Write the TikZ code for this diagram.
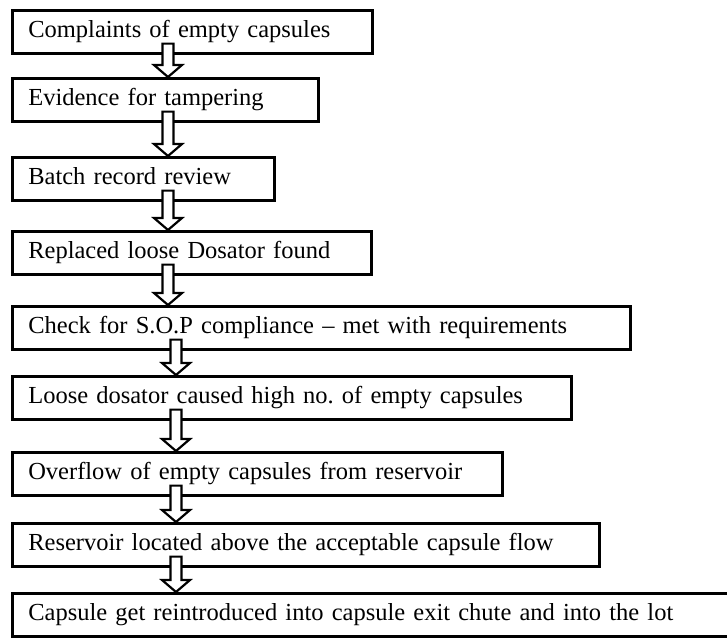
\documentclass[tikz,border=0pt]{standalone}
\usepackage{fontspec}
\setmainfont{Liberation Serif}
\usetikzlibrary{calc}

\tikzset{
  stepbox/.style = {draw, line width = 2.6pt, anchor = north west,
    minimum height = 43pt, inner xsep = 16pt, inner ysep = 0pt,
    align = left, text height = 17pt, text depth = 6pt,
    font = \fontsize{24.5}{30}\selectfont\frenchspacing},
  blockarrow/.style = {draw, fill = white, line width = 2.2pt, line join = miter}
}

% block arrow: from box, to box, x position
\newcommand{\flowarrow}[3]{%
  \draw[blockarrow]
    ($(#3 |- #1.south) + (-5.5, -11)$) -- ($(#3 |- #2.north) + (-5.5, -12)$)
    -- ++(-8.5, 0) -- (#3 |- #2.north) -- ($(#3 |- #2.north) + (14, -12)$)
    -- ++(-8.5, 0) -- ($(#3 |- #1.south) + (5.5, -11)$) -- cycle;}

\begin{document}
\begin{tikzpicture}[x = 1pt, y = -1pt]
\clip (0, 0) rectangle (727, 637);
\fill[white] (0, 0) rectangle (727, 637);

\node[stepbox, text width = 328pt] (b1) at (11, 9) {\mbox{Complaints of empty capsules}};
\node[stepbox, text width = 274pt] (b2) at (11, 77) {\mbox{Evidence for tampering}};
\node[stepbox, text width = 230pt] (b3) at (11, 156) {\mbox{Batch record review}};
\node[stepbox, text width = 327pt] (b4) at (11, 230) {\mbox{Replaced loose Dosator found}};
\node[stepbox, text width = 586pt] (b5) at (11, 305) {\mbox{Check for S.O.P compliance -- met with requirements}};
\node[stepbox, text width = 527pt] (b6) at (11, 375) {\mbox{Loose dosator caused high no. of empty capsules}};
\node[stepbox, text width = 458pt] (b7) at (11, 451) {\mbox{Overflow of empty capsules from reservoir}};
\node[stepbox, text width = 555pt] (b8) at (11, 522) {\mbox{Reservoir located above the acceptable capsule flow}};
\node[stepbox, text width = 708pt] (b9) at (11, 592) {\mbox{Capsule get reintroduced into capsule exit chute and into the lot}};

\coordinate (ax1) at (168, 0);
\coordinate (ax2) at (176, 0);

\flowarrow{b1}{b2}{ax1}
\flowarrow{b2}{b3}{ax1}
\flowarrow{b3}{b4}{ax1}
\flowarrow{b4}{b5}{ax1}
\flowarrow{b5}{b6}{ax2}
\flowarrow{b6}{b7}{ax2}
\flowarrow{b7}{b8}{ax2}
\flowarrow{b8}{b9}{ax2}
\end{tikzpicture}
\end{document}
